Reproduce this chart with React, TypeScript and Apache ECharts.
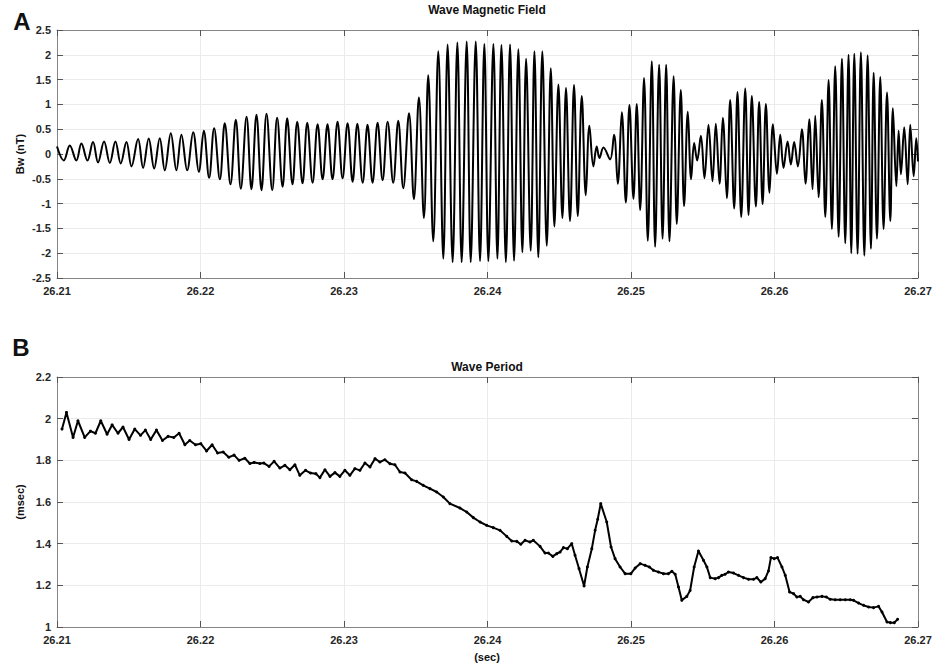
import React, { useEffect, useRef } from "react";
import * as echarts from "echarts";

const FONT = '"Liberation Sans", Arial, Helvetica, sans-serif';

const TIME_MIN = 26.21;
const TIME_MAX = 26.27;
const TIME_STEP = 0.01;
const FIELD_MIN = -2.5;
const FIELD_MAX = 2.5;
const FIELD_STEP = 0.5;
const PERIOD_MIN = 1;
const PERIOD_MAX = 2.2;
const PERIOD_STEP = 0.2;

const titleA = "Wave Magnetic Field";
const titleB = "Wave Period";
const yNameA = "Bw (nT)";
const yNameB = "(msec)";
const xNameB = "(sec)";

// Wave magnetic field: successive extrema (time in s, Bw in nT)
const waveSeg1: [number, number][] = [
  [26.21, 0.15], [26.21047, -0.13], [26.21089, 0.17], [26.21135, -0.13], [26.2117, 0.21],
  [26.21212, -0.13], [26.21251, 0.24], [26.21286, -0.17], [26.21328, 0.25], [26.21368, -0.18],
  [26.21407, 0.25], [26.21444, -0.19], [26.21484, 0.24], [26.21519, -0.25], [26.21565, 0.3],
  [26.216, -0.28], [26.21639, 0.31], [26.21677, -0.29], [26.21716, 0.32], [26.21751, -0.33],
  [26.21793, 0.42], [26.21832, -0.33], [26.21867, 0.39], [26.21907, -0.33], [26.21949, 0.44],
  [26.21988, -0.36], [26.22023, 0.47], [26.2206, -0.48],
];
const waveSeg2: [number, number][] = [
  [26.22095, 0.52], [26.22135, -0.51], [26.22169, 0.62], [26.22209, -0.61], [26.22246, 0.69],
  [26.22281, -0.7], [26.22321, 0.75], [26.22355, -0.71], [26.2239, 0.79], [26.22425, -0.73],
  [26.2246, 0.81], [26.225, -0.73], [26.22534, 0.73], [26.22572, -0.66], [26.22604, 0.72],
  [26.22641, -0.61], [26.22674, 0.65], [26.22711, -0.59], [26.22744, 0.63], [26.22781, -0.58],
  [26.22816, 0.6], [26.22851, -0.51], [26.22885, 0.6], [26.2292, -0.51], [26.22955, 0.65],
  [26.2299, -0.49], [26.23025, 0.62], [26.2306, -0.56], [26.23093, 0.61],
];
const waveSeg3: [number, number][] = [
  [26.2313, -0.58], [26.23164, 0.59], [26.23199, -0.58], [26.23234, 0.63], [26.23269, -0.53],
  [26.23304, 0.65], [26.23343, -0.58], [26.23378, 0.67], [26.23413, -0.69], [26.23453, 0.82],
  [26.23487, -0.91], [26.23522, 1.14], [26.23557, -1.29], [26.23587, 1.59], [26.23622, -1.76],
  [26.23657, 2.07], [26.23692, -2.11], [26.23722, 2.21], [26.23757, -2.18], [26.2379, 2.25],
  [26.2382, -2.18], [26.23855, 2.27], [26.23883, -2.18], [26.23918, 2.27], [26.23948, -2.16],
  [26.23978, 2.22], [26.24006, -2.16], [26.24041, 2.22], [26.24069, -2.11], [26.24097, 2.2],
  [26.24128, -2.18],
];
const waveSeg4: [number, number][] = [
  [26.24157, 2.21], [26.24185, -2.15], [26.24215, 2.11], [26.24243, -1.98], [26.24269, 1.92],
  [26.24301, -1.95], [26.24327, 2.07], [26.24354, -2.08], [26.24382, 2.07], [26.24413, -1.85],
  [26.24441, 1.73], [26.24466, -1.46], [26.24494, 1.4], [26.24522, -1.29], [26.24547, 1.33],
  [26.24575, -1.35], [26.24603, 1.39], [26.24629, -1.25], [26.24657, 1.17], [26.24685, -0.83],
  [26.2471, 0.57], [26.24738, -0.25], [26.24761, 0.15], [26.2478, -0.08], [26.24808, 0.13],
  [26.24854, -0.11], [26.24882, 0.39], [26.24908, -0.6], [26.24936, 0.84], [26.24964, -0.98],
  [26.24989, 0.99], [26.25017, -0.9], [26.2504, 1.01], [26.25064, -1.13], [26.25091, 1.53],
  [26.25117, -1.75], [26.25145, 1.87], [26.25168, -1.87], [26.25196, 1.8],
];
const waveSeg5: [number, number][] = [
  [26.2522, -1.71], [26.25245, 1.8], [26.25268, -1.76], [26.25297, 1.57], [26.25319, -1.41],
  [26.25347, 1.29], [26.2537, -1.05], [26.25396, 0.85], [26.25419, -0.51], [26.2544, 0.22],
  [26.25461, -0.13], [26.25487, 0.37], [26.25512, -0.49], [26.2554, 0.59], [26.25568, -0.55],
  [26.25591, 0.61], [26.25617, -0.6], [26.2564, 0.73], [26.25668, -0.89], [26.25691, 1.09],
  [26.25719, -1.1], [26.25742, 1.25], [26.25768, -1.27], [26.25796, 1.32], [26.25819, -1.23],
  [26.25842, 1.17], [26.2587, -1.06], [26.25893, 1.05], [26.25917, -1.01], [26.2594, 1.01],
  [26.25965, -0.78], [26.25989, 0.6], [26.26017, -0.4], [26.2604, 0.39], [26.26063, -0.28],
  [26.26091, 0.25], [26.26114, -0.21], [26.26137, 0.24], [26.26163, -0.25], [26.26191, 0.5],
  [26.26216, -0.6], [26.26242, 0.7],
];
const waveSeg6: [number, number][] = [
  [26.26265, -0.71], [26.26284, 0.77], [26.26307, -0.87], [26.2633, 1.09], [26.26354, -1.27],
  [26.26377, 1.49], [26.264, -1.51], [26.26423, 1.77], [26.26447, -1.67], [26.2647, 1.92],
  [26.26493, -1.8], [26.26516, 2.0], [26.26535, -2.0], [26.26556, 2.02], [26.26579, -2.01],
  [26.26602, 2.05], [26.26626, -2.05], [26.26649, 1.99], [26.26672, -1.91], [26.26691, 1.64],
  [26.26714, -1.71], [26.26737, 1.55], [26.2676, -1.51], [26.26784, 1.24], [26.26807, -1.35],
  [26.26825, 0.92], [26.26849, -0.65], [26.26865, 0.47], [26.26881, -0.41], [26.26904, 0.54],
  [26.26928, -0.61], [26.26946, 0.59], [26.2697, -0.45], [26.26988, 0.32], [26.27, -0.15],
];

// Wave period (time in s, period in msec)
const periodSeg1: [number, number][] = [
  [26.21035, 1.95], [26.21066, 2.03], [26.21112, 1.91], [26.21146, 1.99], [26.21193, 1.91],
  [26.21233, 1.94], [26.21268, 1.93], [26.21305, 1.99], [26.21349, 1.925], [26.21384, 1.97],
  [26.21425, 1.93], [26.2146, 1.96], [26.21502, 1.9], [26.21542, 1.95], [26.21582, 1.92],
  [26.21616, 1.945], [26.21653, 1.9], [26.21693, 1.945], [26.21735, 1.895], [26.21774, 1.915],
  [26.21814, 1.91], [26.21851, 1.93], [26.21891, 1.875], [26.21925, 1.895], [26.21965, 1.875],
  [26.22002, 1.88], [26.22042, 1.845], [26.22081, 1.875], [26.22119, 1.835], [26.22158, 1.84],
  [26.22197, 1.815], [26.22234, 1.825], [26.22269, 1.8], [26.22309, 1.81], [26.22344, 1.785],
  [26.22374, 1.79], [26.22414, 1.785],
];
const periodSeg2: [number, number][] = [
  [26.22441, 1.787], [26.22478, 1.771], [26.22513, 1.795], [26.22553, 1.763], [26.22588, 1.776],
  [26.22623, 1.755], [26.22658, 1.779], [26.22692, 1.728], [26.22732, 1.752], [26.22767, 1.739],
  [26.22804, 1.736], [26.22832, 1.717], [26.22867, 1.755], [26.22902, 1.723], [26.22937, 1.741],
  [26.22971, 1.723], [26.23006, 1.752], [26.23041, 1.728], [26.23076, 1.76], [26.23111, 1.752],
  [26.23146, 1.787], [26.23181, 1.768], [26.23216, 1.808], [26.2325, 1.792], [26.23285, 1.803],
  [26.2332, 1.784], [26.23355, 1.779], [26.2339, 1.744], [26.23425, 1.739], [26.23471, 1.707],
  [26.23506, 1.699], [26.23552, 1.68], [26.23599, 1.664], [26.23646, 1.648], [26.23692, 1.624],
  [26.23738, 1.592], [26.23808, 1.571], [26.23855, 1.552], [26.23901, 1.525], [26.23948, 1.504],
];
const periodSeg3: [number, number][] = [
  [26.23994, 1.488], [26.2404, 1.477], [26.24087, 1.464], [26.24134, 1.435], [26.24169, 1.413],
  [26.24204, 1.411], [26.24232, 1.397], [26.24262, 1.416], [26.24296, 1.408], [26.24319, 1.416],
  [26.24366, 1.387], [26.24401, 1.355], [26.24424, 1.355], [26.24455, 1.339], [26.24483, 1.352],
  [26.24506, 1.36], [26.24529, 1.381], [26.24557, 1.376], [26.24587, 1.4], [26.2461, 1.344],
  [26.24638, 1.28], [26.24673, 1.197], [26.24696, 1.288], [26.24727, 1.376], [26.2475, 1.464],
  [26.24768, 1.517], [26.24789, 1.592], [26.24831, 1.504], [26.24861, 1.384], [26.24889, 1.328],
  [26.24924, 1.288], [26.24959, 1.256], [26.24999, 1.256], [26.25029, 1.283], [26.25064, 1.304],
  [26.25098, 1.296], [26.25128, 1.288], [26.25156, 1.272], [26.25191, 1.264], [26.25226, 1.256],
];
const periodSeg4: [number, number][] = [
  [26.25261, 1.256], [26.25285, 1.267], [26.25308, 1.253], [26.25331, 1.192], [26.25354, 1.128],
  [26.25389, 1.147], [26.25412, 1.175], [26.2544, 1.288], [26.2547, 1.365], [26.25505, 1.32],
  [26.25529, 1.288], [26.25552, 1.237], [26.25587, 1.232], [26.2561, 1.237], [26.25633, 1.248],
  [26.25656, 1.253], [26.25679, 1.264], [26.25714, 1.259], [26.25749, 1.248], [26.25784, 1.237],
  [26.25819, 1.229], [26.25854, 1.229], [26.25877, 1.237], [26.25905, 1.216], [26.25935, 1.232],
  [26.25958, 1.269], [26.25975, 1.333], [26.25998, 1.328], [26.26021, 1.333], [26.26052, 1.288],
  [26.26075, 1.248], [26.26105, 1.168], [26.26133, 1.16], [26.26156, 1.144], [26.26179, 1.147],
];
const periodSeg5: [number, number][] = [
  [26.26202, 1.131], [26.26237, 1.12], [26.26268, 1.141], [26.26296, 1.144], [26.26331, 1.147],
  [26.26361, 1.144], [26.26388, 1.133], [26.26423, 1.131], [26.26458, 1.131], [26.26493, 1.131],
  [26.26528, 1.131], [26.26551, 1.128], [26.26586, 1.115], [26.26621, 1.104], [26.26656, 1.096],
  [26.2669, 1.093], [26.26725, 1.099], [26.26749, 1.072], [26.26784, 1.024], [26.26807, 1.021],
  [26.26835, 1.021], [26.26858, 1.037],
];

const waveData = [...waveSeg1, ...waveSeg2, ...waveSeg3, ...waveSeg4, ...waveSeg5, ...waveSeg6];
const periodData = [...periodSeg1, ...periodSeg2, ...periodSeg3, ...periodSeg4, ...periodSeg5];

const labelStyle = { fontFamily: FONT, fontSize: 11, fontWeight: "bold" as const, color: "#262626" };
const BORDER = "#858585";
const TICK = "#555555";
const GRIDLINE = "#ebebeb";

function xAxisFor(gridIndex: number, position: "bottom" | "top") {
  const main = position === "bottom";
  return {
    type: "value",
    gridIndex,
    position,
    min: TIME_MIN,
    max: TIME_MAX,
    interval: TIME_STEP,
    axisLine: { show: true, onZero: false, lineStyle: { color: BORDER, width: 1 } },
    axisTick: { show: true, inside: true, length: 6, lineStyle: { color: TICK } },
    axisLabel: main
      ? { ...labelStyle, margin: 7, formatter: (v: number) => v.toFixed(2) }
      : { show: false },
    splitLine: { show: main, lineStyle: { color: GRIDLINE, width: 1 } },
  };
}

function yAxisFor(gridIndex: number, position: "left" | "right", min: number, max: number, step: number) {
  const main = position === "left";
  return {
    type: "value",
    gridIndex,
    position,
    min,
    max,
    interval: step,
    axisLine: { show: true, onZero: false, lineStyle: { color: BORDER, width: 1 } },
    axisTick: { show: true, inside: true, length: 6, lineStyle: { color: TICK } },
    axisLabel: main
      ? { ...labelStyle, margin: 6, formatter: (v: number) => String(parseFloat(v.toFixed(2))) }
      : { show: false },
    splitLine: { show: main, lineStyle: { color: GRIDLINE, width: 1 } },
  };
}

function txt(text: string, x: number, y: number, size: number, rotation = 0) {
  return {
    type: "text",
    x,
    y,
    rotation,
    silent: true,
    style: {
      text,
      fill: "#111",
      font: `bold ${size}px ${FONT}`,
      textAlign: "center",
      textVerticalAlign: "middle",
      align: "center",
      verticalAlign: "middle",
    },
  };
}

export default function App() {
  const ref = useRef<HTMLDivElement>(null);

  useEffect(() => {
    if (!ref.current) return;
    const chart = echarts.init(ref.current, null, { renderer: "svg" });
    const option: any = {
      animation: false,
      backgroundColor: "#ffffff",
      grid: [
        { left: 57, right: 15, top: 30, height: 248, outerBoundsMode: "none" },
        { left: 57, right: 15, top: 377, height: 250, outerBoundsMode: "none" },
      ],
      xAxis: [xAxisFor(0, "bottom"), xAxisFor(0, "top"), xAxisFor(1, "bottom"), xAxisFor(1, "top")],
      yAxis: [
        yAxisFor(0, "left", FIELD_MIN, FIELD_MAX, FIELD_STEP),
        yAxisFor(0, "right", FIELD_MIN, FIELD_MAX, FIELD_STEP),
        yAxisFor(1, "left", PERIOD_MIN, PERIOD_MAX, PERIOD_STEP),
        yAxisFor(1, "right", PERIOD_MIN, PERIOD_MAX, PERIOD_STEP),
      ],
      series: [
        {
          type: "line",
          name: titleA,
          xAxisIndex: 0,
          yAxisIndex: 0,
          data: waveData,
          smooth: 0.38,
          showSymbol: false,
          silent: true,
          lineStyle: { color: "#000", width: 2 },
        },
        {
          type: "line",
          name: titleB,
          xAxisIndex: 2,
          yAxisIndex: 2,
          data: periodData,
          showSymbol: true,
          symbol: "circle",
          symbolSize: 3,
          silent: true,
          itemStyle: { color: "#000" },
          lineStyle: { color: "#000", width: 2 },
        },
      ],
      graphic: [
        txt("A", 22, 21, 24),
        txt("B", 21, 347, 24),
        txt(titleA, 487, 10, 12),
        txt(titleB, 487, 367, 12),
        txt(yNameA, 20, 154, 11, Math.PI / 2),
        txt(yNameB, 20, 502, 11, Math.PI / 2),
        txt(xNameB, 487, 657, 11),
      ],
    };
    chart.setOption(option);
    return () => chart.dispose();
  }, []);

  return (
    <div
      ref={ref}
      style={{ position: "fixed", left: 0, top: 0, width: 933, height: 666, background: "#fff" }}
    />
  );
}
